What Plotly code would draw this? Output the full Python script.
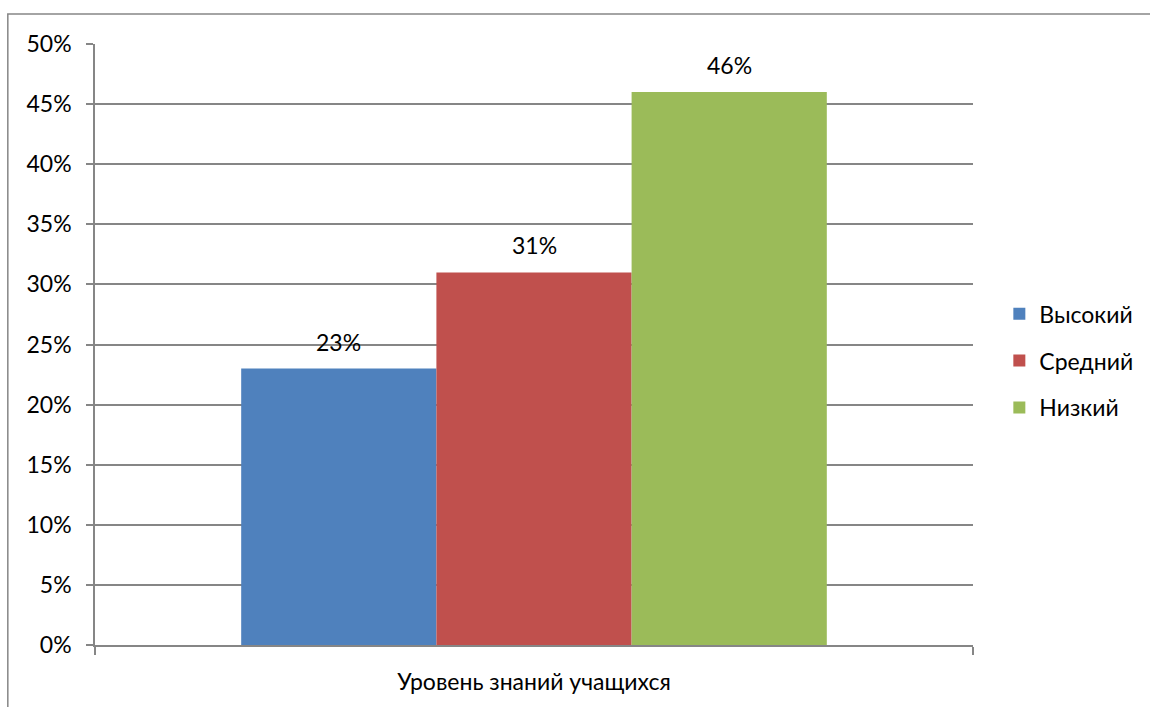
import plotly.graph_objects as go

category = ["Уровень знаний учащихся"]
series_names = ["Высокий", "Средний", "Низкий"]
series_values = [0.23, 0.31, 0.46]
series_colors = ["#4F81BD", "#C0504D", "#9BBB59"]

FONT = "Lato"
FS = 23
GRID = "#868686"
BARGAP = 0.333

fig = go.Figure()
for i, (name, val, col) in enumerate(zip(series_names, series_values, series_colors)):
    fig.add_trace(go.Bar(
        x=category, y=[val], name=name, marker=dict(color=col, line=dict(width=0)),
        legendgroup=name, hoverinfo="skip",
    ))

# value labels above each bar, placed at the bar centres of the group
n = len(series_values)
w = (1 - BARGAP) / n
for i, val in enumerate(series_values):
    fig.add_annotation(
        x=-(1 - BARGAP) / 2 + (i + 0.5) * w, y=val, xref="x", yref="y",
        text=f"{round(val * 100)}%", showarrow=False, yshift=27,
        font=dict(family=FONT, size=FS, color="#000000"),
    )

# chart frame
fig.add_shape(type="rect", xref="paper", yref="paper",
              x0=-0.0993, x1=1.4, y0=-0.3, y1=1.0498,
              line=dict(color=GRID, width=1.5), fillcolor="rgba(0,0,0,0)", layer="below")

fig.update_layout(
    width=1150, height=707,
    margin=dict(l=95, r=172, t=44, b=60),
    paper_bgcolor="white", plot_bgcolor="white",
    barmode="group", bargap=BARGAP, bargroupgap=0,
    font=dict(family=FONT, size=FS, color="#000000"),
    showlegend=True,
    legend=dict(x=1.03, y=0.473, xanchor="left", yanchor="middle",
                font=dict(family=FONT, size=FS), tracegroupgap=14,
                itemwidth=30, bgcolor="rgba(0,0,0,0)"),
    xaxis=dict(
        type="category", tickson="boundaries", ticks="outside", ticklen=8,
        tickcolor=GRID, tickwidth=1.5, showline=True, linecolor=GRID, linewidth=1.5,
        showgrid=False, range=[-0.5, 0.5], fixedrange=True,
        ticklabelstandoff=16, tickfont=dict(family=FONT, size=FS),
    ),
    yaxis=dict(
        range=[0, 0.5], dtick=0.05, tickformat=".0%", ticks="outside", ticklen=7,
        tickcolor=GRID, tickwidth=1.5, showline=True, linecolor=GRID, linewidth=1.5,
        showgrid=True, gridcolor=GRID, gridwidth=1.5, zeroline=False,
        ticklabelstandoff=10, tickfont=dict(family=FONT, size=FS),
    ),
)

fig.write_html("out.html")
